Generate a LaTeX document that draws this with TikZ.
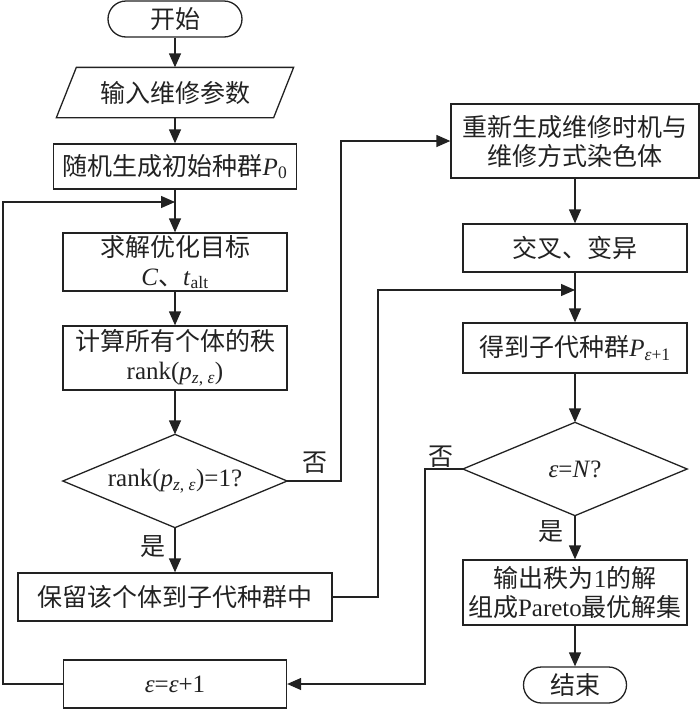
\documentclass[tikz,border=0pt]{standalone}
\usepackage{fontspec}
\setmainfont{Liberation Serif}
\newfontfamily\cjk{Noto Sans CJK SC}
\usetikzlibrary{arrows.meta}
\definecolor{ln}{HTML}{222222}
\newcommand\rmt[1]{\textrm{#1}}
\begin{document}
\begin{tikzpicture}[x=1pt,y=-1pt,line width=1.3pt,
  txt/.style={inner sep=0pt, align=center, text=ln, font=\fontsize{25}{29}\selectfont\cjk},
  box/.style={txt, draw=ln, rectangle},
  ghost/.style={txt, rectangle},
  term/.style={box, rounded corners=18pt},
  lbl/.style={txt},
  arr/.style={draw=ln, -{Triangle[length=14pt,width=12pt]}},
  edge/.style={draw=ln}]
\useasboundingbox (0,0) rectangle (700,710);

% left column
\node[term, minimum width=134pt, minimum height=36pt] (start) at (175,19) {开始};
\node[ghost, minimum width=216pt, minimum height=49pt] (input) at (175,92.5) {输入维修参数};
\draw[edge] ([xshift=-10pt]input.south west) -- ([xshift=10pt]input.north west)
  -- ([xshift=10pt]input.north east) -- ([xshift=-10pt]input.south east) -- cycle;
\node[box, minimum width=243pt, minimum height=45pt] (init) at (175,166.5)
  {随机生成初始种群\rmt{\textit{P}\textsubscript{0}}};
\node[box, minimum width=224pt, minimum height=58pt] (solve) at (175,262)
  {求解优化目标\\\rmt{\textit{C}}、\rmt{\textit{t}\textsubscript{alt}}};
\node[box, minimum width=224pt, minimum height=64pt] (rank) at (175,358)
  {计算所有个体的秩\\\rmt{rank(\textit{p}\textsubscript{\textit{z}, \textit{ε}})}};
\node[ghost, minimum width=223pt, minimum height=92pt] (dec1) at (175,481)
  {\rmt{rank(\textit{p}\textsubscript{\textit{z}, \textit{ε}})=1?}};
\draw[edge] (dec1.north) -- (dec1.east) -- (dec1.south) -- (dec1.west) -- cycle;
\node[box, minimum width=314pt, minimum height=48pt] (keep) at (175,597) {保留该个体到子代种群中};
\node[box, minimum width=223pt, minimum height=48pt] (inc) at (175,684)
  {\rmt{\textit{ε}=\textit{ε}+1}};

% right column
\node[box, minimum width=248pt, minimum height=74pt] (regen) at (575,141) {重新生成维修时机与\\维修方式染色体};
\node[box, minimum width=224pt, minimum height=48pt] (cross) at (575,248) {交叉、变异};
\node[box, minimum width=224pt, minimum height=50pt] (child) at (575,348)
  {得到子代种群\rmt{\textit{P}\textsubscript{\textit{ε}+1}}};
\node[ghost, minimum width=223pt, minimum height=92pt] (dec2) at (575,469)
  {\rmt{\textit{ε}=\textit{N}?}};
\draw[edge] (dec2.north) -- (dec2.east) -- (dec2.south) -- (dec2.west) -- cycle;
\node[box, minimum width=224pt, minimum height=65pt] (out) at (575,592.5)
  {输出秩为\rmt{1}的解\\组成\rmt{Pareto}最优解集};
\node[term, minimum width=103pt, minimum height=36pt] (end) at (575,685) {结束};

% labels
\node[lbl] (no1) at (315,463) {否};
\node[lbl] (yes1) at (153,547) {是};
\node[lbl] (no2) at (441,457) {否};
\node[lbl] (yes2) at (551,532) {是};

% helper coordinates
\coordinate (j1) at (175,202);
\coordinate (c1) at (3,202);
\coordinate (c2) at (341,141);
\coordinate (j2) at (575,290);
\coordinate (c3) at (378,290);
\coordinate (c4) at (425,684);

% connectors
\draw[arr] (start.south) -- (input.north);
\draw[arr] (input.south) -- (init.north);
\draw[arr] (init.south) -- (solve.north);
\draw[arr] (inc.west) -| (c1) -- (j1);
\draw[arr] (solve.south) -- (rank.north);
\draw[arr] (rank.south) -- (dec1.north);
\draw[arr] (dec1.south) -- (keep.north);
\draw[arr] (dec1.east) -| (c2) -- (regen.west);
\draw[arr] (regen.south) -- (cross.north);
\draw[arr] (cross.south) -- (child.north);
\draw[arr] (keep.east) -| (c3) -- (j2);
\draw[arr] (child.south) -- (dec2.north);
\draw[arr] (dec2.south) -- (out.north);
\draw[arr] (dec2.west) -| (c4) -- (inc.east);
\draw[arr] (out.south) -- (end.north);
\end{tikzpicture}
\end{document}
